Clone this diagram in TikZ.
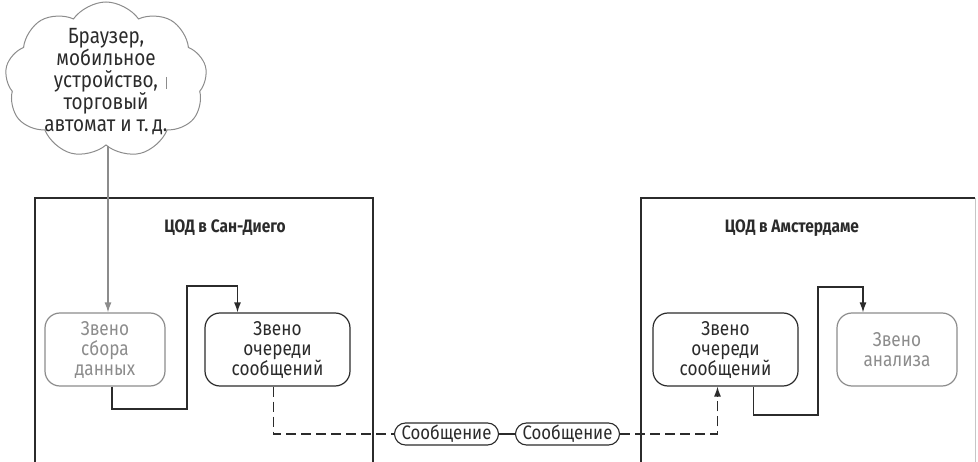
\documentclass[tikz,border=0pt]{standalone}
\usepackage{fontspec}
\setmainfont{Fira Sans}[FakeStretch=0.86]
\usetikzlibrary{shapes.symbols,arrows.meta}
\definecolor{ink}{HTML}{2B2B2B}
\definecolor{soft}{HTML}{8C8C8C}
\begin{document}
\begin{tikzpicture}[x=1pt,y=-1pt,
  every node/.style={font=\fontsize{20}{20}\selectfont, text=ink, align=center},
  tier/.style={draw=ink, line width=1.2pt, rounded corners=15pt, minimum height=73pt, inner sep=0pt},
  tiersoft/.style={tier, draw=soft, text=soft},
  msg/.style={draw=ink, line width=1.1pt, rounded corners=11pt, minimum width=104pt, minimum height=22pt,
              inner sep=0pt, font=\fontsize{19.5}{20}\selectfont},
  dc/.style={draw=ink, line width=1.1pt},
  title/.style={font=\bfseries\fontsize{18}{20}\selectfont},
  flow/.style={draw=ink, line width=1.3pt},
  tip/.style={-{Latex[length=10pt,width=7pt]}},
  async/.style={flow, dash pattern=on 10pt off 5pt}
]
\useasboundingbox (0,0) rectangle (978,462);

% client cloud
\node[cloud, cloud puffs=9, cloud puff arc=110, cloud ignores aspect, draw=soft,
      line width=1pt, minimum width=202pt, minimum height=156pt, inner sep=0pt] (client) at (106,80) {};
\node[font=\fontsize{22}{22}\selectfont] (clienttext) at (106,82)
  {Браузер,\\мобильное\\устройство,\\торговый\\автомат и т.\,д.};
\draw[soft, line width=0.8pt] (166,77) -- (166,89);

% data centres (open at the bottom)
\draw[dc] (35,462) -- (35,198) -- (373,198) -- (373,462);
\draw[dc] (641,462) -- (641,198) -- (975,198);
\draw[soft!50, line width=0.8pt] (975,198) -- (975,462);
\node[title] (sdtitle) at (225,228) {ЦОД в Сан-Диего};
\node[title] (amtitle) at (792,228) {ЦОД в Амстердаме};

% tiers
\node[tiersoft, minimum width=120pt] (collect) at (105,349.5) {Звено\\сбора\\данных};
\node[tier, minimum width=145pt] (queueA) at (277.5,349.5) {Звено\\очереди\\сообщений};
\node[tier, minimum width=145pt] (queueB) at (725.5,349.5) {Звено\\очереди\\сообщений};
\node[tiersoft, minimum width=120pt] (analysis) at (897,349.5) {Звено\\анализа};

% messages in transit
\node[msg] (msgA) at (446.5,434) {Сообщение};
\node[msg] (msgB) at (567.5,434) {Сообщение};

% connectors
\draw[flow, draw=soft, tip] ([xshift=2pt]client.south) -- ([xshift=2pt]client.south |- collect.north);
\draw[flow, tip] ([xshift=7pt]collect.south) -- ([xshift=7pt]collect.south |- 0,409)
  -- (187,409) -- (187,286) -- ([xshift=-40pt]queueA.north |- 0,286) -- ([xshift=-40pt]queueA.north);
\draw[async] ([xshift=-4pt]queueA.south) |- (msgA.west);
\draw[flow] (msgA.east) -- (msgB.east -| msgB.west);
\draw[async, tip] (msgB.east) -| ([xshift=-8pt]queueB.south);
\draw[flow, tip] ([xshift=28pt]queueB.south) -- ([xshift=28pt]queueB.south |- 0,415)
  -- (818,415) -- (818,287) -- ([xshift=-34pt]analysis.north |- 0,287) -- ([xshift=-34pt]analysis.north);
\end{tikzpicture}
\end{document}
